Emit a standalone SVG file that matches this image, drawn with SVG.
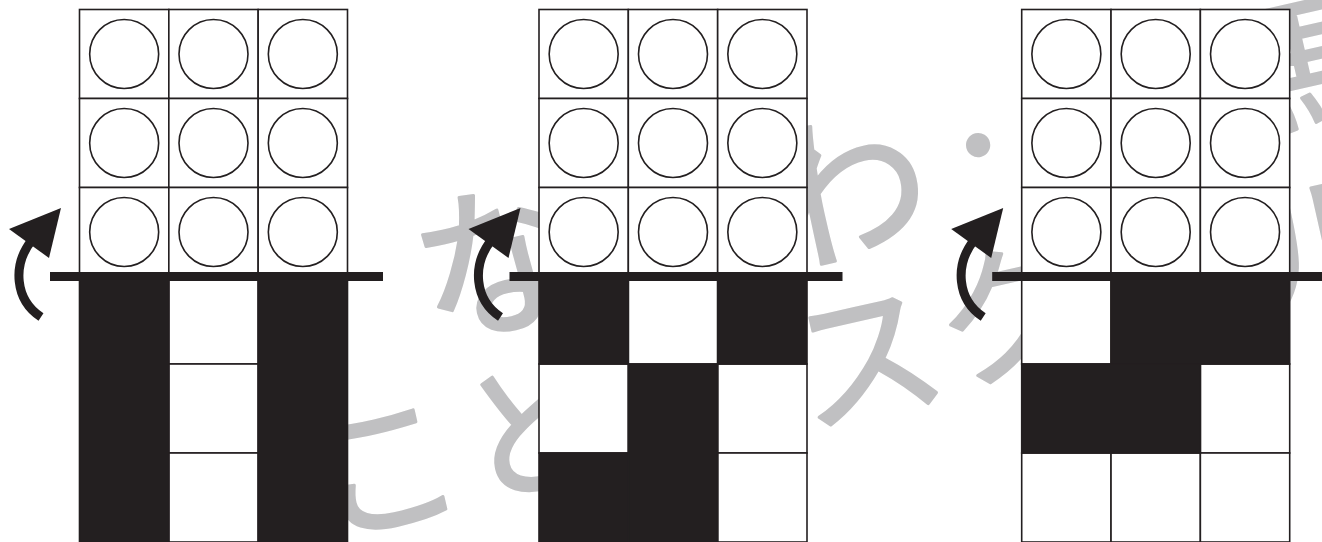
<svg xmlns="http://www.w3.org/2000/svg" xmlns:xlink="http://www.w3.org/1999/xlink" width="1322" height="542" viewBox="0 0 1322 542">
<style>
.wm{font-family:"Noto Sans CJK JP","Noto Sans",sans-serif;font-size:150px;fill:#c0c0c2;stroke:#c0c0c2;stroke-width:3;stroke-linejoin:round;text-anchor:middle}
.wl{font-size:165px}
.wd{font-size:100px}
.cell{fill:#ffffff;stroke:#231f20;stroke-width:1.6}
.blk{fill:#231f20;stroke:#231f20;stroke-width:1.6}
.c{fill:none;stroke:#231f20;stroke-width:1.6}
.bar{fill:#231f20}
.shaft{fill:none;stroke:#231f20;stroke-width:9}
.head{fill:#231f20}
</style>
<defs>
<g id="topgrid">
<rect class="cell" x="0" y="9.5" width="89.33" height="89"/>
<rect class="cell" x="89.33" y="9.5" width="89.33" height="89"/>
<rect class="cell" x="178.67" y="9.5" width="89.33" height="89"/>
<rect class="cell" x="0" y="98.5" width="89.33" height="89"/>
<rect class="cell" x="89.33" y="98.5" width="89.33" height="89"/>
<rect class="cell" x="178.67" y="98.5" width="89.33" height="89"/>
<rect class="cell" x="0" y="187.5" width="89.33" height="89"/>
<rect class="cell" x="89.33" y="187.5" width="89.33" height="89"/>
<rect class="cell" x="178.67" y="187.5" width="89.33" height="89"/>
<circle class="c" cx="44.67" cy="54" r="34.5"/>
<circle class="c" cx="134" cy="54" r="34.5"/>
<circle class="c" cx="223.33" cy="54" r="34.5"/>
<circle class="c" cx="44.67" cy="143" r="34.5"/>
<circle class="c" cx="134" cy="143" r="34.5"/>
<circle class="c" cx="223.33" cy="143" r="34.5"/>
<circle class="c" cx="44.67" cy="232" r="34.5"/>
<circle class="c" cx="134" cy="232" r="34.5"/>
<circle class="c" cx="223.33" cy="232" r="34.5"/>
</g>
</defs>
<rect x="0" y="0" width="1322" height="542" fill="#ffffff"/>
<g id="watermark">
<text class="wm wl" transform="translate(497,262) rotate(-12.8)" x="0" y="61">な</text>
<text class="wm wl" transform="translate(845,190) rotate(-12.8)" x="0" y="61">わ</text>
<text class="wm wd" transform="translate(978,145) rotate(-12.8)" x="0" y="38">・</text>
<text class="wm" transform="translate(1300,68) rotate(-12.8)" x="0" y="55">馬</text>
<text class="wm" transform="translate(385,468) rotate(-12.8)" x="0" y="55">こ</text>
<text class="wm" transform="translate(534,431) rotate(-12.8)" x="0" y="55">と</text>
<text class="wm" transform="translate(867,357) rotate(-12.8)" x="0" y="55">ス</text>
<text class="wm" transform="translate(1010,315) rotate(-12.8)" x="0" y="55">ク</text>
<text class="wm" transform="translate(1320,245) rotate(-12.8)" x="0" y="55">ル</text>
</g>
<g id="panel1" transform="translate(79.5,0)">
<use xlink:href="#topgrid" href="#topgrid"/>
<rect class="cell" x="89.33" y="275" width="89.33" height="89"/>
<rect class="cell" x="89.33" y="364" width="89.33" height="89"/>
<rect class="cell" x="89.33" y="453" width="89.33" height="89"/>
<rect class="blk" x="0" y="275" width="89.33" height="267"/>
<rect class="blk" x="178.67" y="275" width="89.33" height="267"/>
<rect class="bar" x="-29.5" y="272" width="333" height="9"/>
</g>
<g id="panel2" transform="translate(539,0)">
<use xlink:href="#topgrid" href="#topgrid"/>
<rect class="cell" x="89.33" y="275" width="89.33" height="89"/>
<rect class="cell" x="0" y="364" width="89.33" height="89"/>
<rect class="cell" x="178.67" y="364" width="89.33" height="89"/>
<rect class="cell" x="178.67" y="453" width="89.33" height="89"/>
<rect class="blk" x="0" y="275" width="89.33" height="89"/>
<rect class="blk" x="178.67" y="275" width="89.33" height="89"/>
<rect class="blk" x="89.33" y="364" width="89.33" height="178"/>
<rect class="blk" x="0" y="453" width="89.33" height="89"/>
<rect class="bar" x="-29.5" y="272" width="333" height="9"/>
</g>
<g id="panel3" transform="translate(1021.7,0)">
<use xlink:href="#topgrid" href="#topgrid"/>
<rect class="cell" x="0" y="275" width="89.33" height="89"/>
<rect class="cell" x="178.67" y="364" width="89.33" height="89"/>
<rect class="cell" x="0" y="453" width="89.33" height="89"/>
<rect class="cell" x="89.33" y="453" width="89.33" height="89"/>
<rect class="cell" x="178.67" y="453" width="89.33" height="89"/>
<rect class="blk" x="89.33" y="275" width="178.67" height="89"/>
<rect class="blk" x="0" y="364" width="178.67" height="89"/>
<rect class="bar" x="-29.5" y="272" width="333" height="9"/>
</g>
<g id="connectors">
<g transform="translate(79.5,0)">
<path class="shaft" d="M -38.5 317 C -64.5 300 -67.5 265 -47.5 240"/>
<polygon class="head" points="-70.5,229 -18.5,208 -30.5,258"/>
</g>
<g transform="translate(539,0)">
<path class="shaft" d="M -38.5 317 C -64.5 300 -67.5 265 -47.5 240"/>
<polygon class="head" points="-70.5,229 -18.5,208 -30.5,258"/>
</g>
<g transform="translate(1021.7,0)">
<path class="shaft" d="M -38.5 317 C -64.5 300 -67.5 265 -47.5 240"/>
<polygon class="head" points="-70.5,229 -18.5,208 -30.5,258"/>
</g>
</g>
</svg>
